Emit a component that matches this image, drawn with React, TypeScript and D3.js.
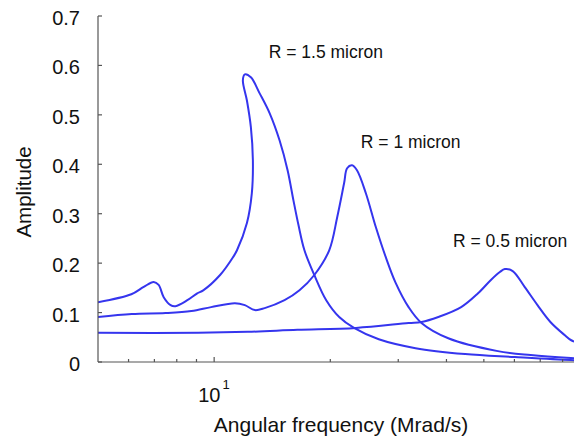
import React from "react";
import * as d3 from "d3";

// R = 1.5 micron (folds back near the peak)
const freq15 = [5.0, 6.1, 6.57, 6.97, 7.18, 7.4, 7.71, 7.94, 8.52, 9.04, 9.37, 10.36, 11.19, 11.46, 12.16, 12.52, 12.6, 12.45, 12.16, 11.87, 12.01, 12.45, 13.13, 13.93, 14.78, 15.5, 16.05, 16.54, 17.14, 18.18, 19.52, 21.09, 23.04, 26.71, 33.26, 44.72, 60.11, 84, 95];
const amp15 = [0.121, 0.137, 0.152, 0.162, 0.156, 0.131, 0.115, 0.113, 0.125, 0.139, 0.145, 0.176, 0.212, 0.226, 0.281, 0.341, 0.408, 0.475, 0.529, 0.57, 0.582, 0.576, 0.543, 0.503, 0.448, 0.388, 0.327, 0.277, 0.226, 0.176, 0.125, 0.091, 0.069, 0.046, 0.028, 0.016, 0.01, 0.004, 0.003];

// R = 1 micron
const freq10 = [5.0, 6.12, 7.48, 8.73, 9.82, 11.32, 12.01, 12.75, 13.52, 15.22, 16.64, 18.18, 19.87, 20.84, 21.72, 22.11, 22.77, 23.45, 24.74, 26.24, 27.85, 29.54, 31.91, 34.46, 40.44, 54.36, 66.09, 84, 95];
const amp10 = [0.091, 0.097, 0.099, 0.103, 0.111, 0.119, 0.115, 0.105, 0.109, 0.125, 0.145, 0.176, 0.226, 0.293, 0.362, 0.392, 0.398, 0.388, 0.341, 0.273, 0.212, 0.16, 0.111, 0.079, 0.048, 0.022, 0.014, 0.008, 0.006];

// R = 0.5 micron
const freq05 = [5.0, 9.1, 12.23, 16.44, 23.32, 31.91, 34.46, 38.11, 43.67, 48.29, 52.15, 55.01, 56.66, 59.4, 63.77, 68.87, 74.37, 80.83, 84.24, 95];
const amp05 = [0.059, 0.059, 0.061, 0.065, 0.069, 0.079, 0.081, 0.091, 0.111, 0.139, 0.166, 0.182, 0.188, 0.184, 0.152, 0.115, 0.081, 0.055, 0.044, 0.03];

const yTicks = [0, 0.1, 0.2, 0.3, 0.4, 0.5, 0.6, 0.7];
const xMinorTicks = [6, 7, 8, 9, 20, 30, 40, 50, 60, 70, 80, 90];
const xMajorTicks = [10];

const labels = [
  { text: "R = 1.5 micron", f: 13.85, a: 0.615 },
  { text: "R = 1 micron", f: 24.0, a: 0.433 },
  { text: "R = 0.5 micron", f: 41.6, a: 0.233 },
];

const font = "'Liberation Sans', Arial, Helvetica, sans-serif";
const blue = "#3535ee";
const axisColor = "#555";

export default function App() {
  const width = 574;
  const height = 442;

  const x = d3.scaleLog().domain([5, 100]).range([98, 600]);
  const y = d3.scaleLinear().domain([0, 0.7]).range([362, 16]);

  const line = d3
    .line<[number, number]>()
    .x((d) => x(d[0]))
    .y((d) => y(d[1]))
    .curve(d3.curveCatmullRom.alpha(0.5));

  const series = [
    freq15.map((f, i) => [f, amp15[i]] as [number, number]),
    freq10.map((f, i) => [f, amp10[i]] as [number, number]),
    freq05.map((f, i) => [f, amp05[i]] as [number, number]),
  ];

  return (
    <svg
      width={width}
      height={height}
      style={{ position: "absolute", left: 0, top: 0, background: "#fff" }}
      fontFamily={font}
    >
      <defs>
        <clipPath id="plot">
          <rect x={98} y={0} width={width - 98} height={363} />
        </clipPath>
      </defs>

      {/* curves */}
      <g clipPath="url(#plot)">
        {series.map((s, i) => (
          <path key={i} d={line(s) || ""} fill="none" stroke={blue} strokeWidth={2} />
        ))}
      </g>

      {/* y axis */}
      <line x1={98} x2={98} y1={y(0.7)} y2={y(0)} stroke={axisColor} strokeWidth={1.2} />
      {yTicks.map((t) => (
        <g key={t}>
          <line x1={98} x2={102} y1={y(t)} y2={y(t)} stroke={axisColor} strokeWidth={1.2} />
          <text x={80} y={y(t) + 9} textAnchor="end" fontSize={20} fill="#111">
            {t === 0 ? "0" : t.toFixed(1)}
          </text>
        </g>
      ))}

      {/* x axis */}
      <line x1={98} x2={width} y1={y(0)} y2={y(0)} stroke={axisColor} strokeWidth={1.2} />
      {xMinorTicks.map((t) => (
        <line key={t} x1={x(t)} x2={x(t)} y1={y(0)} y2={y(0) - 3} stroke={axisColor} strokeWidth={1.2} />
      ))}
      {xMajorTicks.map((t) => (
        <g key={t}>
          <line x1={x(t)} x2={x(t)} y1={y(0)} y2={y(0) - 5} stroke={axisColor} strokeWidth={1.2} />
          <text x={x(t) - 16} y={402} fontSize={20} fill="#111">
            10
            <tspan fontSize={13} dy={-13} dx={2}>
              {Math.log10(t)}
            </tspan>
          </text>
        </g>
      ))}

      {/* axis titles */}
      <text x={341} y={432} textAnchor="middle" fontSize={21} fill="#111">
        Angular frequency (Mrad/s)
      </text>
      <text
        transform={`translate(31,192) rotate(-90)`}
        textAnchor="middle"
        fontSize={20.5}
        fill="#111"
      >
        Amplitude
      </text>

      {/* series labels */}
      {labels.map((l) => (
        <text key={l.text} x={x(l.f)} y={y(l.a)} fontSize={17.5} fill="#111">
          {l.text}
        </text>
      ))}
    </svg>
  );
}
